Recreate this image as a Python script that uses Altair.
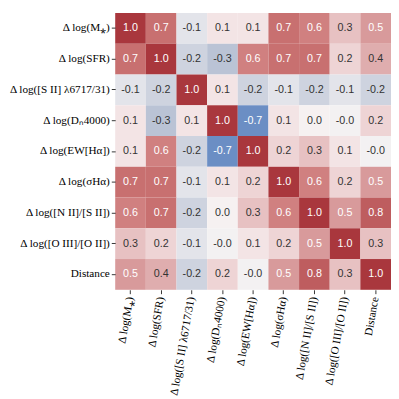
import altair as alt
import pandas as pd

labels = [
    "Δ log(M⁎)",
    "Δ log(SFR)",
    "Δ log([S II] λ6717/31)",
    "Δ log(Dₙ4000)",
    "Δ log(EW[Hα])",
    "Δ log(σHα)",
    "Δ log([N II]/[S II])",
    "Δ log([O III]/[O II])",
    "Distance",
]

row_mstar = [1.0, 0.7, -0.1, 0.1, 0.1, 0.7, 0.6, 0.3, 0.5]
row_sfr = [0.7, 1.0, -0.2, -0.3, 0.6, 0.7, 0.7, 0.2, 0.4]
row_sii = [-0.1, -0.2, 1.0, 0.1, -0.2, -0.1, -0.2, -0.1, -0.2]
row_dn = [0.1, -0.3, 0.1, 1.0, -0.7, 0.1, 0.02, -0.02, 0.2]
row_ew = [0.1, 0.6, -0.2, -0.7, 1.0, 0.2, 0.3, 0.1, -0.02]
row_sig = [0.7, 0.7, -0.1, 0.1, 0.2, 1.0, 0.6, 0.2, 0.5]
row_nii = [0.6, 0.7, -0.2, 0.02, 0.3, 0.6, 1.0, 0.5, 0.8]
row_oiii = [0.3, 0.2, -0.1, -0.02, 0.1, 0.2, 0.5, 1.0, 0.3]
row_dist = [0.5, 0.4, -0.2, 0.2, -0.02, 0.5, 0.8, 0.3, 1.0]

rows = [row_mstar, row_sfr, row_sii, row_dn, row_ew, row_sig, row_nii, row_oiii, row_dist]

records = []
for i, r in enumerate(rows):
    for j, v in enumerate(r):
        records.append({"row": labels[i], "col": labels[j], "value": v,
                        "txt": f"{v:.1f}"})
df = pd.DataFrame(records)

color_domain = [-1, -0.7, -0.3, 0, 0.2, 0.5, 0.6, 0.7, 1]
color_range = ["#2369bd", "#6b8ec4", "#bac3d5", "#f7f4f4", "#eed4d5",
               "#d89a9b", "#d08080", "#c87070", "#a9373d"]

serif = "Liberation Serif"

base = alt.Chart(df).encode(
    x=alt.X("col:N", sort=labels, title=None,
            axis=alt.Axis(labelAngle=280, labelFont=serif,
                          labelFontSize=11.5, labelColor="#000",
                          domain=False, tickSize=4, tickColor="#333",
                          labelPadding=3)),
    y=alt.Y("row:N", sort=labels, title=None,
            axis=alt.Axis(labelFont=serif, labelFontSize=11.5,
                          labelColor="#000", domain=False, tickSize=4,
                          tickColor="#333", labelPadding=2)),
)

rect = base.mark_rect().encode(
    color=alt.Color("value:Q", scale=alt.Scale(domain=color_domain, range=color_range,
                                               interpolate="rgb"), legend=None)
)

text = base.mark_text(font="Liberation Sans", fontSize=11).encode(
    text="txt:N",
    color=alt.condition("abs(datum.value) >= 0.45", alt.value("white"), alt.value("#333333")),
)

chart = (rect + text).properties(
    width=283, height=284, padding=0
).configure_view(stroke=None).configure_scale(bandPaddingInner=0)

chart.save("out.html", embed_options={"renderer": "svg", "actions": False})
